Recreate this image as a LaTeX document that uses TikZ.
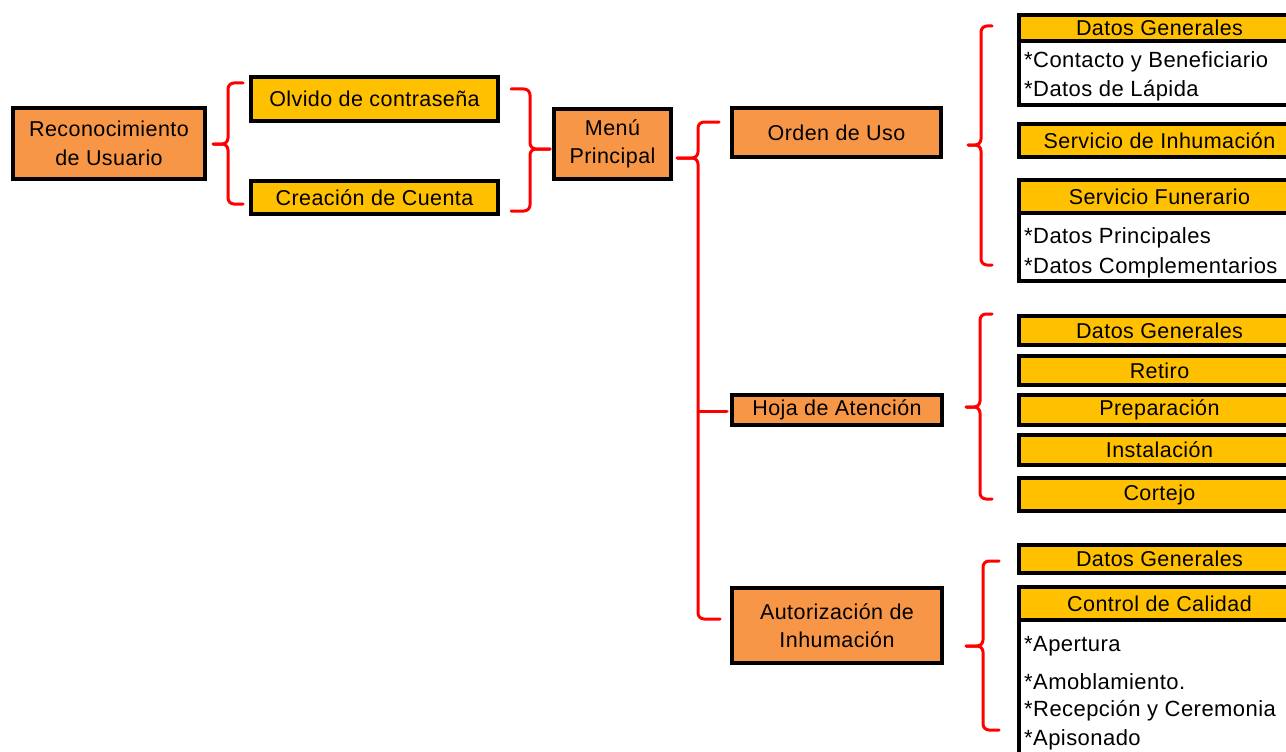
\documentclass[tikz,border=0pt]{standalone}
\usepackage{fontspec}
\setmainfont{Liberation Sans}[LetterSpace=2]
\definecolor{boxorange}{HTML}{F79646}
\definecolor{boxyellow}{HTML}{FFC000}
\definecolor{bracered}{HTML}{FF0000}
\begin{document}
\begin{tikzpicture}[x=1pt,y=-1pt,
  box/.style={draw=black, line width=3.6pt, inner sep=0pt, align=center,
    font=\fontsize{21.5}{28.5}\selectfont},
  orangebox/.style={box, fill=boxorange},
  yellowbox/.style={box, fill=boxyellow},
  listbox/.style={box, fill=white},
  listitem/.style={anchor=west, inner sep=0pt, font=\fontsize{22}{28.5}\selectfont},
  brace/.style={draw=bracered, line width=3pt, rounded corners=6pt, line cap=round}
]
\useasboundingbox (0,0) rectangle (1286,752);
\clip (0,0) rectangle (1286,752);

% ---- left part ----
\node[orangebox, minimum width=192pt, minimum height=71pt] (recon) at (109,143.5)
  {Reconocimiento\\de Usuario};
\node[yellowbox, minimum width=247pt, minimum height=44pt] (olvido) at (374.5,99)
  {Olvido de contraseña};
\node[yellowbox, minimum width=247pt, minimum height=33pt] (creacion) at (374.5,197.5)
  {Creación de Cuenta};
\node[orangebox, minimum width=117pt, minimum height=70pt] (menu) at (612.5,144)
  {Menú\\Principal};

% ---- second level ----
\node[orangebox, minimum width=209pt, minimum height=49pt] (orden) at (836.5,132.5)
  {Orden de Uso};
\node[orangebox, minimum width=210pt, minimum height=30pt] (hoja) at (837,410)
  {Hoja de Atención};
\node[orangebox, minimum width=210pt, minimum height=75pt] (autoriz) at (837,625.5)
  {Autorización de\\Inhumación};

% ---- Orden de Uso group ----
\node[listbox, minimum width=281pt, minimum height=64.2pt] (dgAbody) at (1159.5,73.1) {};
\node[yellowbox, minimum width=281pt, minimum height=26pt] (dgA) at (1159.5,28) {Datos Generales};
\node[listitem] (dgAi) at (1024,62) {*Contacto y Beneficiario};
\node[listitem] (dgAii) at (1024,91) {*Datos de Lápida};
\node[yellowbox, minimum width=281pt, minimum height=33pt] (inhum) at (1159.5,140.5)
  {Servicio de Inhumación};
\node[listbox, minimum width=281pt, minimum height=68.2pt] (funbody) at (1159.5,247.1) {};
\node[yellowbox, minimum width=281pt, minimum height=33pt] (fun) at (1159.5,196.5)
  {Servicio Funerario};
\node[listitem] (funi) at (1024,238) {*Datos Principales};
\node[listitem] (funii) at (1024,268) {*Datos Complementarios};

% ---- Hoja de Atención group ----
\node[yellowbox, minimum width=281pt, minimum height=29pt] (dgB) at (1159.5,330.5) {Datos Generales};
\node[yellowbox, minimum width=281pt, minimum height=29pt] (retiro) at (1159.5,370.5) {Retiro};
\node[yellowbox, minimum width=281pt, minimum height=30pt] (prep) at (1159.5,410) {Preparación};
\node[yellowbox, minimum width=281pt, minimum height=30pt] (inst) at (1159.5,450) {Instalación};
\node[yellowbox, minimum width=281pt, minimum height=33pt] (cortejo) at (1159.5,494.5) {Cortejo};

% ---- Autorización group ----
\node[yellowbox, minimum width=281pt, minimum height=28pt] (dgC) at (1159.5,559) {Datos Generales};
\node[listbox, minimum width=281pt, minimum height=140pt] (calbody) at (1159.5,690) {};
\node[yellowbox, minimum width=281pt, minimum height=33pt] (cal) at (1159.5,603.5) {Control de Calidad};
\node[listitem] (cali) at (1024,646) {*Apertura};
\node[listitem] (calii) at (1024,682) {*Amoblamiento.};
\node[listitem] (caliii) at (1024,711) {*Recepción y Ceremonia};
\node[listitem] (caliv) at (1024,740) {*Apisonado};

% ---- brace end points ----
\coordinate (aTip) at (213,144);   \coordinate (aTop) at (243,83);   \coordinate (aBot) at (243,204);
\coordinate (bTip) at (550,149);   \coordinate (bTop) at (511,89);   \coordinate (bBot) at (511,211);
\coordinate (cTip) at (677,158);   \coordinate (cTop) at (719,122);  \coordinate (cBot) at (720,619);
\coordinate (cMid) at (727,411);
\coordinate (dTip) at (968,145);   \coordinate (dTop) at (992,26);   \coordinate (dBot) at (992,265);
\coordinate (eTip) at (966,407);   \coordinate (eTop) at (992,314);  \coordinate (eBot) at (992,499);
\coordinate (fTip) at (966,646);   \coordinate (fTop) at (999,561);  \coordinate (fBot) at (999,730);

% ---- braces ----
% Reconocimiento -> Olvido / Creación
\draw[brace] (aTop) -- (228,83) -- (228,144) -- (aTip);
\draw[brace] (aTip) -- (228,144) -- (228,204) -- (aBot);
% Olvido / Creación -> Menú
\draw[brace] (bTop) -- (530,89) -- (530,149) -- (bTip);
\draw[brace] (bTip) -- (530,149) -- (530,211) -- (bBot);
% Menú -> Orden / Hoja / Autorización
\draw[brace] (cTop) -- (698,122) -- (698,158) -- (cTip);
\draw[brace] (cTip) -- (698,158) -- (698,619) -- (cBot);
\draw[brace, rounded corners=0pt] (698,411) -- (cMid);
% Orden de Uso group
\draw[brace] (dTop) -- (981,26) -- (981,145) -- (dTip);
\draw[brace] (dTip) -- (981,145) -- (981,265) -- (dBot);
% Hoja de Atención group
\draw[brace] (eTop) -- (980,314) -- (980,407) -- (eTip);
\draw[brace] (eTip) -- (980,407) -- (980,499) -- (eBot);
% Autorización group
\draw[brace] (fTop) -- (983,561) -- (983,646) -- (fTip);
\draw[brace] (fTip) -- (983,646) -- (983,730) -- (fBot);
\end{tikzpicture}
\end{document}
